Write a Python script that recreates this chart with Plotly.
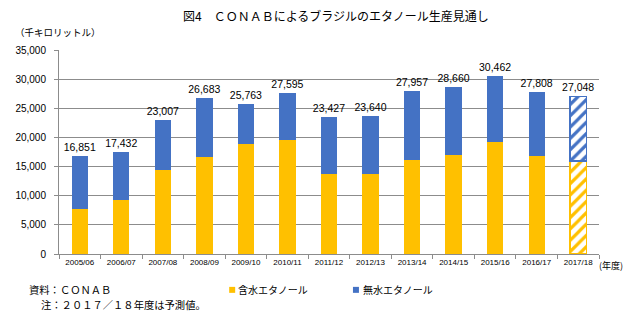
import plotly.graph_objects as go

# ---- data ----
years = ["2005/06", "2006/07", "2007/08", "2008/09", "2009/10", "2010/11", "2011/12",
         "2012/13", "2013/14", "2014/15", "2015/16", "2016/17", "2017/18"]
totals = [16851, 17432, 23007, 26683, 25763, 27595, 23427, 23640, 27957, 28660, 30462, 27808, 27048]
hydrous = [7780, 9300, 14440, 16660, 18940, 19570, 13760, 13760, 16150, 17000, 19280, 16830, 15930]
anhydrous = [t - h for t, h in zip(totals, hydrous)]
forecast = [False] * 12 + [True]

y_ticks = [0, 5000, 10000, 15000, 20000, 25000, 30000, 35000]

title_text = "図4　ＣＯＮＡＢによるブラジルのエタノール生産見通し"
unit_text = "（千キロリットル）"
xunit_text = "(年度)"
source_text = "資料：ＣＯＮＡＢ"
note_text = "注：２０１７／１８年度は予測値。"
name_hyd = "含水エタノール"
name_anh = "無水エタノール"

YELLOW = "#FFC000"
BLUE = "#4472C4"
GRID = "#8c8c8c"
JP = "Noto Sans CJK JP"
LAT = "Liberation Sans"

W, H = 638, 322
L, R, T, B = 58.5, 599.5, 49.7, 254.5


def px(x):
    return (x - L) / (R - L)


def py(y):
    return (B - y) / (B - T)


fig = go.Figure()


def bar_marker(color):
    return dict(
        color=color,
        line=dict(color=color, width=[1.5 if f else 0 for f in forecast]),
        pattern=dict(shape=["/" if f else "" for f in forecast],
                     fgcolor=color, bgcolor="white", size=8, solidity=0.4,
                     fillmode="replace"),
    )


fig.add_trace(go.Bar(x=years, y=hydrous, name=name_hyd, marker=bar_marker(YELLOW),
                     showlegend=False, hoverinfo="skip"))
fig.add_trace(go.Bar(x=years, y=anhydrous, name=name_anh, marker=bar_marker(BLUE),
                     showlegend=False, hoverinfo="skip",
                     text=[f"{t:,}" for t in totals], textposition="outside",
                     constraintext="none",
                     textfont=dict(family=LAT, size=10.5, color="#000000"),
                     cliponaxis=False))

fig.update_layout(
    width=W, height=H,
    margin=dict(l=L, r=W - R, t=T, b=H - B, pad=0),
    barmode="stack", bargap=0.606,
    plot_bgcolor="white", paper_bgcolor="white",
    font=dict(family=LAT, color="#000000"),
    xaxis=dict(type="category", showline=True, linecolor=GRID, linewidth=1,
               ticks="outside", tickson="boundaries", ticklen=4, tickcolor=GRID,
               tickfont=dict(family=LAT, size=8, color="#000000"), showgrid=False),
    yaxis=dict(range=[0, 35000], tickvals=y_ticks, ticktext=[f"{v:,}" for v in y_ticks],
               showline=True, linecolor=GRID, linewidth=1, ticks="outside",
               ticklen=4, tickcolor=GRID, showgrid=True, gridcolor=GRID, gridwidth=1,
               zeroline=False, tickfont=dict(family=LAT, size=10, color="#000000"),
               ticklabelstandoff=6),
    showlegend=False,
)

ann = [
    dict(text=title_text, x=px(336), y=py(15), xanchor="center", size=12),
    dict(text=unit_text, x=px(13), y=py(32), xanchor="left", size=9.5),
    dict(text=xunit_text, x=px(598), y=py(266), xanchor="left", size=9),
    dict(text=source_text, x=px(27), y=py(289.8), xanchor="left", size=10.3),
    dict(text=note_text, x=px(39), y=py(305.4), xanchor="left", size=10.3),
    dict(text=name_hyd, x=px(237), y=py(290.5), xanchor="left", size=10),
    dict(text=name_anh, x=px(362), y=py(290.5), xanchor="left", size=10),
]
for a in ann:
    fig.add_annotation(text=a["text"], x=a["x"], y=a["y"], xref="paper", yref="paper",
                       xanchor=a["xanchor"], yanchor="middle", showarrow=False,
                       borderpad=0,
                       font=dict(family=JP, size=a["size"], color="#000000"))

for x0, c in [(229, YELLOW), (353, BLUE)]:
    fig.add_shape(type="rect", xref="paper", yref="paper",
                  x0=px(x0), x1=px(x0 + 6), y0=py(293.5), y1=py(287.5),
                  fillcolor=c, line=dict(width=0))

fig.write_html("out.html")
